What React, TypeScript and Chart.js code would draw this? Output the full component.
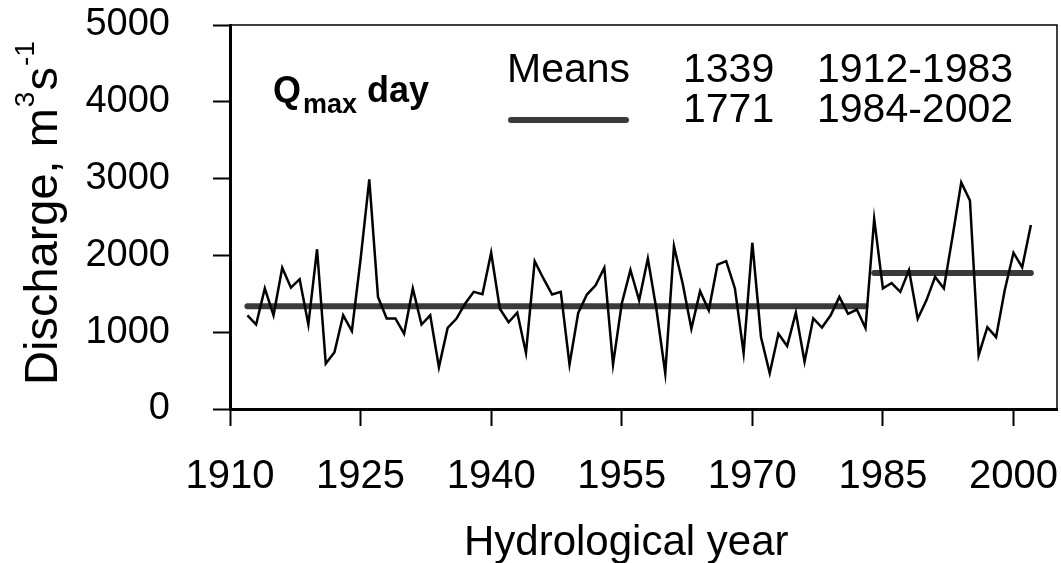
import React, { useEffect, useRef } from "react";
import { Chart, registerables } from "chart.js";

Chart.register(...registerables);

const years = [
  1912, 1913, 1914, 1915, 1916, 1917, 1918, 1919, 1920, 1921,
  1922, 1923, 1924, 1925, 1926, 1927, 1928, 1929, 1930, 1931,
  1932, 1933, 1934, 1935, 1936, 1937, 1938, 1939, 1940, 1941,
  1942, 1943, 1944, 1945, 1946, 1947, 1948, 1949, 1950, 1951,
  1952, 1953, 1954, 1955, 1956, 1957, 1958, 1959, 1960, 1961,
  1962, 1963, 1964, 1965, 1966, 1967, 1968, 1969, 1970, 1971,
  1972, 1973, 1974, 1975, 1976, 1977, 1978, 1979, 1980, 1981,
  1982, 1983, 1984, 1985, 1986, 1987, 1988, 1989, 1990, 1991,
  1992, 1993, 1994, 1995, 1996, 1997, 1998, 1999, 2000, 2001,
  2002,
];

const discharge = [
  1220, 1100, 1570, 1220, 1840, 1580, 1690, 1100, 2080, 590,
  740, 1220, 1015, 1950, 2990, 1460, 1180, 1180, 980, 1570,
  1100, 1220, 545, 1055, 1175, 1370, 1525, 1495, 2035, 1305,
  1130, 1255, 730, 1925, 1700, 1490, 1525, 580, 1250, 1490,
  1610, 1840, 580, 1370, 1810, 1415, 1960, 1285, 465, 2120,
  1635, 1045, 1535, 1285, 1880, 1925, 1570, 730, 2165, 935,
  465, 980, 820, 1255, 615, 1180, 1060, 1220, 1460, 1240,
  1295, 1055, 2475, 1570, 1640, 1525, 1810, 1175, 1415, 1720,
  1570, 2245, 2950, 2715, 700, 1065, 935, 1550, 2035, 1845,
  2395,
];

const meanPeriodStart = [1912, 1984];
const meanPeriodEnd = [1983, 2002];
const meanValues = [1339, 1771];
const meanLabels = ["1912-1983", "1984-2002"];

const xTicks = [1910, 1925, 1940, 1955, 1970, 1985, 2000];
const yTicks = [0, 1000, 2000, 3000, 4000, 5000];

const FONT = '"Liberation Sans", Arial, Helvetica, sans-serif';
const MEAN_COLOR = "#3a3a3a";

const textPlugin = {
  id: "customText",
  afterDraw(chart: any) {
    const ctx = chart.ctx as CanvasRenderingContext2D;
    const a = chart.chartArea;
    ctx.save();
    // thin top and right frame
    ctx.strokeStyle = "#000";
    ctx.lineWidth = 1.5;
    ctx.beginPath();
    ctx.moveTo(a.left, a.top);
    ctx.lineTo(a.right, a.top);
    ctx.lineTo(a.right, a.bottom);
    ctx.stroke();

    ctx.fillStyle = "#000";
    ctx.textBaseline = "alphabetic";
    ctx.textAlign = "left";

    // Q max day label
    ctx.font = `bold 36px ${FONT}`;
    ctx.fillText("Q", 273, 102);
    let qx = 273 + ctx.measureText("Q").width + 2;
    ctx.font = `bold 27px ${FONT}`;
    ctx.fillText("max", qx, 113);
    qx += ctx.measureText("max").width + 10;
    ctx.font = `bold 36px ${FONT}`;
    ctx.fillText("day", qx, 102);

    // Means legend
    ctx.font = `41px ${FONT}`;
    ctx.fillText("Means", 507, 82);
    ctx.fillText(String(meanValues[0]), 683, 82);
    ctx.fillText(meanLabels[0], 817, 82);
    ctx.fillText(String(meanValues[1]), 683, 122);
    ctx.fillText(meanLabels[1], 817, 122);

    ctx.strokeStyle = MEAN_COLOR;
    ctx.lineWidth = 6;
    ctx.lineCap = "round";
    ctx.beginPath();
    ctx.moveTo(511, 120);
    ctx.lineTo(626, 120);
    ctx.stroke();

    // x axis title
    ctx.font = `42px ${FONT}`;
    ctx.fillText("Hydrological year", 464, 555);

    // y axis title with superscripts
    ctx.translate(57, 385);
    ctx.rotate(-Math.PI / 2);
    let tx = 0;
    const big = `47px ${FONT}`;
    const sup = `28px ${FONT}`;
    ctx.font = big;
    ctx.fillText("Discharge, m", tx, 0);
    tx += ctx.measureText("Discharge, m").width + 1;
    ctx.font = sup;
    ctx.fillText("3", tx, -23);
    tx += ctx.measureText("3").width + 1;
    ctx.font = big;
    ctx.fillText("s", tx, 0);
    tx += ctx.measureText("s").width + 1;
    ctx.font = sup;
    ctx.fillText("-1", tx, -23);
    ctx.restore();
  },
};

export default function App() {
  const ref = useRef<HTMLCanvasElement | null>(null);

  useEffect(() => {
    if (!ref.current) return;
    const seriesPoints = years.map((yr, i) => ({ x: yr, y: discharge[i] }));
    const meanSets = meanValues.map((v, i) => ({
      label: "Mean " + meanLabels[i],
      data: [
        { x: meanPeriodStart[i], y: v },
        { x: meanPeriodEnd[i], y: v },
      ],
      borderColor: MEAN_COLOR,
      borderWidth: 6,
      borderCapStyle: "round" as const,
      pointRadius: 0,
      tension: 0,
      order: 2,
    }));

    const chart = new Chart(ref.current, {
      type: "line",
      data: {
        datasets: [
          {
            label: "Qmax day",
            data: seriesPoints,
            borderColor: "#000",
            borderWidth: 2.5,
            pointRadius: 0,
            tension: 0,
            borderJoinStyle: "miter",
            order: 1,
          },
          ...meanSets,
        ],
      },
      options: {
        responsive: false,
        animation: false,
        layout: { padding: { top: 25, right: 4, left: 0, bottom: 0 } },
        plugins: {
          legend: { display: false },
          tooltip: { enabled: false },
          title: { display: false },
        },
        scales: {
          x: {
            type: "linear",
            min: 1910,
            max: 2005,
            afterBuildTicks: (s: any) => {
              s.ticks = xTicks.map((v) => ({ value: v }));
            },
            afterFit: (s: any) => {
              s.height = 154;
              s.paddingLeft = 0;
              s.paddingRight = 0;
              s.paddingTop = 0;
              s.paddingBottom = 0;
            },
            ticks: {
              font: { family: FONT, size: 40 },
              color: "#000",
              padding: 27,
              maxRotation: 0,
              autoSkip: false,
              callback: (v: any) => String(v),
            },
            grid: {
              drawOnChartArea: false,
              drawTicks: true,
              tickLength: 17,
              tickWidth: 2,
              tickColor: "#000",
            },
            border: { display: true, color: "#000", width: 3 },
          },
          y: {
            type: "linear",
            min: 0,
            max: 5000,
            afterBuildTicks: (s: any) => {
              s.ticks = yTicks.map((v) => ({ value: v }));
            },
            afterFit: (s: any) => {
              s.width = 230;
              s.paddingLeft = 0;
              s.paddingRight = 0;
              s.paddingTop = 0;
              s.paddingBottom = 0;
            },
            ticks: {
              font: { family: FONT, size: 38 },
              color: "#000",
              padding: 43,
              callback: (v: any) => String(v),
            },
            grid: {
              drawOnChartArea: false,
              drawTicks: true,
              tickLength: 17,
              tickWidth: 2,
              tickColor: "#000",
            },
            border: { display: true, color: "#000", width: 3 },
          },
        },
      },
      plugins: [textPlugin],
    });
    return () => chart.destroy();
  }, []);

  return (
    <div
      style={{
        position: "absolute",
        left: 0,
        top: 0,
        width: 1061,
        height: 563,
        background: "#fff",
      }}
    >
      <canvas ref={ref} width={1061} height={563} />
    </div>
  );
}
